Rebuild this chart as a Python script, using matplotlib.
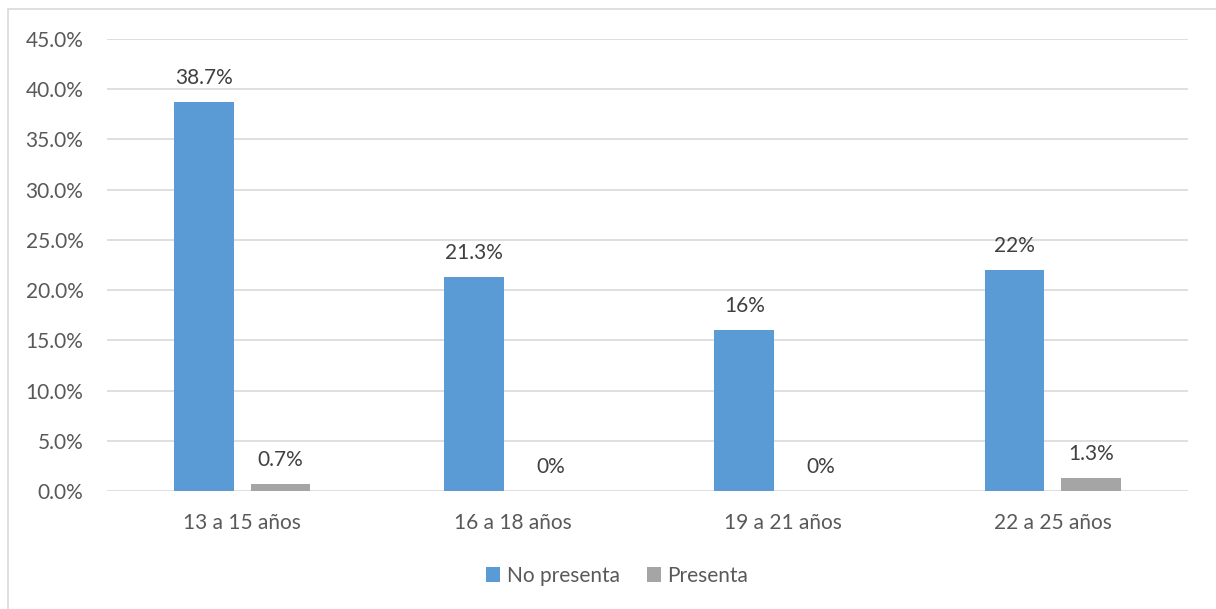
import matplotlib
matplotlib.use("Agg")
import matplotlib.pyplot as plt
from matplotlib.patches import Rectangle
from matplotlib.ticker import FuncFormatter
import numpy as np

categories = ["13 a 15 años", "16 a 18 años", "19 a 21 años", "22 a 25 años"]
no_presenta = [38.7, 21.3, 16.0, 22.0]
presenta = [0.7, 0.0, 0.0, 1.3]
no_presenta_labels = ["38.7%", "21.3%", "16%", "22%"]
presenta_labels = ["0.7%", "0%", "0%", "1.3%"]
series_names = ["No presenta", "Presenta"]
y_ticks = [0, 5, 10, 15, 20, 25, 30, 35, 40, 45]

plt.rcParams["font.family"] = ["Lato", "DejaVu Sans"]

BLUE = "#5B9BD5"
GRAY = "#A5A5A5"
GRID = "#D9D9D9"
TICK_TXT = "#595959"
LABEL_TXT = "#404040"
FS = 15

fig = plt.figure(figsize=(12.16, 6.09), dpi=100)
fig.patch.set_facecolor("white")

# chart frame (open on the right and bottom)
fig.add_artist(Rectangle((8 / 1216, -0.05), 1.2, 1 - 9 / 609 + 0.05,
                         transform=fig.transFigure, fill=False,
                         edgecolor=GRID, linewidth=1.2, zorder=0))

ax = fig.add_axes([107 / 1216, 1 - 491 / 609, (1188 - 107) / 1216, (491 - 39) / 609])

x = np.arange(len(categories))
w = 0.222
off = 0.142
b1 = ax.bar(x - off, no_presenta, width=w, color=BLUE, zorder=3, label=series_names[0])
b2 = ax.bar(x + off, presenta, width=w, color=GRAY, zorder=3, label=series_names[1])

for bars, labels in ((b1, no_presenta_labels), (b2, presenta_labels)):
    for rect, lab in zip(bars, labels):
        ax.annotate(lab, (rect.get_x() + rect.get_width() / 2, rect.get_height()),
                    xytext=(0, 10), textcoords="offset points",
                    ha="center", va="bottom", fontsize=FS, color=LABEL_TXT)

ax.set_xlim(-0.5, len(categories) - 0.5)
ax.set_ylim(0, 45)
ax.set_yticks(y_ticks)
ax.yaxis.set_major_formatter(FuncFormatter(lambda v, p: f"{v:.1f}%"))
ax.set_xticks(x)
ax.set_xticklabels(categories)
ax.grid(axis="y", color=GRID, linewidth=1.2, zorder=0)
ax.set_axisbelow(True)
for s in ax.spines.values():
    s.set_visible(False)
ax.tick_params(axis="both", length=0, labelsize=FS, labelcolor=TICK_TXT)
ax.tick_params(axis="y", pad=17)
ax.tick_params(axis="x", pad=16)

fig.legend(handles=[b1, b2], labels=series_names, loc="center",
           bbox_to_anchor=(617 / 1216, 1 - 576 / 609), ncol=2, frameon=False,
           fontsize=FS, labelcolor=TICK_TXT, handlelength=0.7, handleheight=0.7,
           handletextpad=0.3, columnspacing=1.3)

fig.savefig("out.png", dpi=100, facecolor="white")
